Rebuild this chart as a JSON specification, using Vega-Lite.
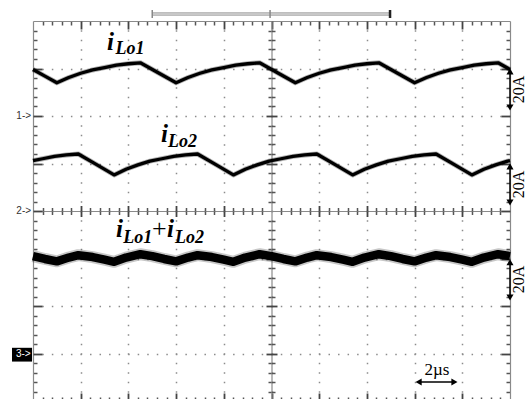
{
"$schema": "https://vega.github.io/schema/vega-lite/v6.json",
"width": 477, "height": 380,
"autosize": {"type": "none"},
"padding": {"left": 33, "top": 21, "right": 18, "bottom": 0},
"background": "white",
"config": {"view": {"stroke": null}, "axis": {"labels": false, "title": null, "domainColor": "#8a8a8a", "domainWidth": 1.2, "tickColor": "#555555", "tickWidth": 1.5, "grid": false}},
"resolve": {"axis": {"x": "independent", "y": "independent"}},
"data": {"values": [
{"ch":"iLo1","t":0,"v":6.98},{"ch":"iLo1","t":0.5,"v":6.84},{"ch":"iLo1","t":1.0,"v":6.70},{"ch":"iLo1","t":1.5,"v":6.81},{"ch":"iLo1","t":2.0,"v":6.90},{"ch":"iLo1","t":2.5,"v":6.97},{"ch":"iLo1","t":3.0,"v":7.02},{"ch":"iLo1","t":3.5,"v":7.07},{"ch":"iLo1","t":4.0,"v":7.10},{"ch":"iLo1","t":4.5,"v":7.12},{"ch":"iLo1","t":5.25,"v":6.91},
{"ch":"iLo1","t":6.0,"v":6.70},{"ch":"iLo1","t":6.5,"v":6.81},{"ch":"iLo1","t":7.0,"v":6.90},{"ch":"iLo1","t":7.5,"v":6.97},{"ch":"iLo1","t":8.0,"v":7.02},{"ch":"iLo1","t":8.5,"v":7.07},{"ch":"iLo1","t":9.0,"v":7.10},{"ch":"iLo1","t":9.5,"v":7.12},{"ch":"iLo1","t":10.25,"v":6.91},
{"ch":"iLo1","t":11.0,"v":6.70},{"ch":"iLo1","t":11.5,"v":6.81},{"ch":"iLo1","t":12.0,"v":6.90},{"ch":"iLo1","t":12.5,"v":6.97},{"ch":"iLo1","t":13.0,"v":7.02},{"ch":"iLo1","t":13.5,"v":7.07},{"ch":"iLo1","t":14.0,"v":7.10},{"ch":"iLo1","t":14.5,"v":7.12},{"ch":"iLo1","t":15.25,"v":6.91},
{"ch":"iLo1","t":16.0,"v":6.70},{"ch":"iLo1","t":16.5,"v":6.81},{"ch":"iLo1","t":17.0,"v":6.90},{"ch":"iLo1","t":17.5,"v":6.97},{"ch":"iLo1","t":18.0,"v":7.02},{"ch":"iLo1","t":18.5,"v":7.07},{"ch":"iLo1","t":19.0,"v":7.10},{"ch":"iLo1","t":19.5,"v":7.12},{"ch":"iLo1","t":20.0,"v":6.98},
{"ch":"iLo2","t":0,"v":5.06},{"ch":"iLo2","t":0.4,"v":5.10},{"ch":"iLo2","t":0.9,"v":5.15},{"ch":"iLo2","t":1.4,"v":5.18},{"ch":"iLo2","t":1.9,"v":5.20},{"ch":"iLo2","t":2.65,"v":4.98},
{"ch":"iLo2","t":3.4,"v":4.76},{"ch":"iLo2","t":3.9,"v":4.88},{"ch":"iLo2","t":4.4,"v":4.97},{"ch":"iLo2","t":4.9,"v":5.05},{"ch":"iLo2","t":5.4,"v":5.10},{"ch":"iLo2","t":5.9,"v":5.15},{"ch":"iLo2","t":6.4,"v":5.18},{"ch":"iLo2","t":6.9,"v":5.20},{"ch":"iLo2","t":7.65,"v":4.98},
{"ch":"iLo2","t":8.4,"v":4.76},{"ch":"iLo2","t":8.9,"v":4.88},{"ch":"iLo2","t":9.4,"v":4.97},{"ch":"iLo2","t":9.9,"v":5.05},{"ch":"iLo2","t":10.4,"v":5.10},{"ch":"iLo2","t":10.9,"v":5.15},{"ch":"iLo2","t":11.4,"v":5.18},{"ch":"iLo2","t":11.9,"v":5.20},{"ch":"iLo2","t":12.65,"v":4.98},
{"ch":"iLo2","t":13.4,"v":4.76},{"ch":"iLo2","t":13.9,"v":4.88},{"ch":"iLo2","t":14.4,"v":4.97},{"ch":"iLo2","t":14.9,"v":5.05},{"ch":"iLo2","t":15.4,"v":5.10},{"ch":"iLo2","t":15.9,"v":5.15},{"ch":"iLo2","t":16.4,"v":5.18},{"ch":"iLo2","t":16.9,"v":5.20},{"ch":"iLo2","t":17.65,"v":4.98},
{"ch":"iLo2","t":18.4,"v":4.76},{"ch":"iLo2","t":18.9,"v":4.88},{"ch":"iLo2","t":19.4,"v":4.97},{"ch":"iLo2","t":19.9,"v":5.05},{"ch":"iLo2","t":20.0,"v":5.06},
{"ch":"sum","t":0,"v":3.05},{"ch":"sum","t":0.5,"v":2.99},{"ch":"sum","t":1.0,"v":2.94},{"ch":"sum","t":1.5,"v":3.02},{"ch":"sum","t":1.9,"v":3.07},{"ch":"sum","t":2.5,"v":3.03},{"ch":"sum","t":3.0,"v":2.975},{"ch":"sum","t":3.4,"v":2.93},{"ch":"sum","t":3.9,"v":3.02},{"ch":"sum","t":4.5,"v":3.09},
{"ch":"sum","t":5.0,"v":3.05},{"ch":"sum","t":5.5,"v":2.99},{"ch":"sum","t":6.0,"v":2.94},{"ch":"sum","t":6.5,"v":3.02},{"ch":"sum","t":6.9,"v":3.07},{"ch":"sum","t":7.5,"v":3.03},{"ch":"sum","t":8.0,"v":2.975},{"ch":"sum","t":8.4,"v":2.93},{"ch":"sum","t":8.9,"v":3.02},{"ch":"sum","t":9.5,"v":3.09},
{"ch":"sum","t":10.0,"v":3.05},{"ch":"sum","t":10.5,"v":2.99},{"ch":"sum","t":11.0,"v":2.94},{"ch":"sum","t":11.5,"v":3.02},{"ch":"sum","t":11.9,"v":3.07},{"ch":"sum","t":12.5,"v":3.03},{"ch":"sum","t":13.0,"v":2.975},{"ch":"sum","t":13.4,"v":2.93},{"ch":"sum","t":13.9,"v":3.02},{"ch":"sum","t":14.5,"v":3.09},
{"ch":"sum","t":15.0,"v":3.05},{"ch":"sum","t":15.5,"v":2.99},{"ch":"sum","t":16.0,"v":2.94},{"ch":"sum","t":16.5,"v":3.02},{"ch":"sum","t":16.9,"v":3.07},{"ch":"sum","t":17.5,"v":3.03},{"ch":"sum","t":18.0,"v":2.975},{"ch":"sum","t":18.4,"v":2.93},{"ch":"sum","t":18.9,"v":3.02},{"ch":"sum","t":19.5,"v":3.09},{"ch":"sum","t":20.0,"v":3.05}
]},
"layer": [
{"transform": [{"filter": "datum.ch !== 'sum'"}],
 "mark": {"type": "line", "color": "#000", "strokeWidth": 5, "opacity": 0.3, "strokeJoin": "round"},
 "encoding": {
  "x": {"field": "t", "type": "quantitative", "scale": {"domain": [0, 20], "nice": false, "zero": false},
        "axis": {"orient": "bottom", "tickSize": -4, "values": [0.4,0.8,1.2,1.6,2.4,2.8,3.2,3.6,4.4,4.8,5.2,5.6,6.4,6.8,7.2,7.6,8.4,8.8,9.2,9.6,10.4,10.8,11.2,11.6,12.4,12.8,13.2,13.6,14.4,14.8,15.2,15.6,16.4,16.8,17.2,17.6,18.4,18.8,19.2,19.6]}},
  "y": {"field": "v", "type": "quantitative", "scale": {"domain": [0, 8], "nice": false, "zero": false},
        "axis": {"orient": "left", "tickSize": -4, "values": [0.2,0.4,0.6,0.8,1.2,1.4,1.6,1.8,2.2,2.4,2.6,2.8,3.2,3.4,3.6,3.8,4.2,4.4,4.6,4.8,5.2,5.4,5.6,5.8,6.2,6.4,6.6,6.8,7.2,7.4,7.6,7.8]}},
  "detail": {"field": "ch"}}},
{"transform": [{"filter": "datum.ch === 'sum'"}],
 "mark": {"type": "line", "color": "#000", "strokeWidth": 12, "opacity": 0.22, "strokeJoin": "round"},
 "encoding": {
  "x": {"field": "t", "type": "quantitative",
        "axis": {"orient": "top", "tickSize": -4, "values": [0.4,0.8,1.2,1.6,2.4,2.8,3.2,3.6,4.4,4.8,5.2,5.6,6.4,6.8,7.2,7.6,8.4,8.8,9.2,9.6,10.4,10.8,11.2,11.6,12.4,12.8,13.2,13.6,14.4,14.8,15.2,15.6,16.4,16.8,17.2,17.6,18.4,18.8,19.2,19.6]}},
  "y": {"field": "v", "type": "quantitative",
        "axis": {"orient": "right", "tickSize": -4, "values": [0.2,0.4,0.6,0.8,1.2,1.4,1.6,1.8,2.2,2.4,2.6,2.8,3.2,3.4,3.6,3.8,4.2,4.4,4.6,4.8,5.2,5.4,5.6,5.8,6.2,6.4,6.6,6.8,7.2,7.4,7.6,7.8]}}}},
{"transform": [{"filter": "datum.ch !== 'sum'"}],
 "mark": {"type": "line", "color": "#000", "strokeWidth": 3.3, "strokeJoin": "round"},
 "encoding": {
  "x": {"field": "t", "type": "quantitative",
        "axis": {"orient": "bottom", "offset": -190, "tickSize": 3.5, "values": [0.4,0.8,1.2,1.6,2.4,2.8,3.2,3.6,4.4,4.8,5.2,5.6,6.4,6.8,7.2,7.6,8.4,8.8,9.2,9.6,10.4,10.8,11.2,11.6,12.4,12.8,13.2,13.6,14.4,14.8,15.2,15.6,16.4,16.8,17.2,17.6,18.4,18.8,19.2,19.6]}},
  "y": {"field": "v", "type": "quantitative",
        "axis": {"orient": "left", "offset": -238.5, "tickSize": 3.5, "values": [0.2,0.4,0.6,0.8,1.2,1.4,1.6,1.8,2.2,2.4,2.6,2.8,3.2,3.4,3.6,3.8,4.2,4.4,4.6,4.8,5.2,5.4,5.6,5.8,6.2,6.4,6.6,6.8,7.2,7.4,7.6,7.8]}},
  "detail": {"field": "ch"}}},
{"transform": [{"filter": "datum.ch === 'sum'"}],
 "mark": {"type": "line", "color": "#000", "strokeWidth": 8.5, "strokeJoin": "round"},
 "encoding": {
  "x": {"field": "t", "type": "quantitative",
        "axis": {"orient": "top", "offset": -190, "domain": false, "tickSize": 3.5, "values": [0.4,0.8,1.2,1.6,2.4,2.8,3.2,3.6,4.4,4.8,5.2,5.6,6.4,6.8,7.2,7.6,8.4,8.8,9.2,9.6,10.4,10.8,11.2,11.6,12.4,12.8,13.2,13.6,14.4,14.8,15.2,15.6,16.4,16.8,17.2,17.6,18.4,18.8,19.2,19.6]}},
  "y": {"field": "v", "type": "quantitative",
        "axis": {"orient": "right", "offset": -238.5, "domain": false, "tickSize": 3.5, "values": [0.2,0.4,0.6,0.8,1.2,1.4,1.6,1.8,2.2,2.4,2.6,2.8,3.2,3.4,3.6,3.8,4.2,4.4,4.6,4.8,5.2,5.4,5.6,5.8,6.2,6.4,6.6,6.8,7.2,7.4,7.6,7.8]}}}},

{"data": {"values": [{}]}, "mark": {"type": "text", "text": "i", "font": "Liberation Serif", "fontStyle": "italic", "fontWeight": "bold", "fontSize": 25, "align": "left", "baseline": "alphabetic"},
 "encoding": {"x": {"datum": 3.10, "axis": {"orient": "bottom", "domain": false, "tickSize": -8, "tickColor": "#444", "tickWidth": 1.8, "values": [2,4,6,8,10,12,14,16,18], "grid": true, "gridColor": "#8c8c8c", "gridWidth": 1.5, "gridDash": [1.5, 8], "gridDashOffset": 0.75}},
              "y": {"datum": 7.39, "axis": {"orient": "left", "domain": false, "tickSize": -9, "tickColor": "#444", "tickWidth": 1.8, "values": [1,2,3,4,5,6,7], "grid": true, "gridColor": "#8c8c8c", "gridWidth": 1.5, "gridDash": [1.5, 8.04], "gridDashOffset": 0.75}}}},
{"data": {"values": [{}]}, "mark": {"type": "text", "text": "Lo1", "font": "Liberation Serif", "fontStyle": "italic", "fontWeight": "bold", "fontSize": 18, "align": "left", "baseline": "alphabetic"},
 "encoding": {"x": {"datum": 3.46, "axis": {"orient": "top", "domain": false, "tickSize": -8, "tickColor": "#444", "tickWidth": 1.8, "values": [2,4,6,8,10,12,14,16,18]}},
              "y": {"datum": 7.305, "axis": {"orient": "right", "domain": false, "tickSize": -9, "tickColor": "#444", "tickWidth": 1.8, "values": [1,2,3,4,5,6,7]}}}},
{"data": {"values": [{}]}, "mark": {"type": "text", "text": "i", "font": "Liberation Serif", "fontStyle": "italic", "fontWeight": "bold", "fontSize": 25, "align": "left", "baseline": "alphabetic"},
 "encoding": {"x": {"datum": 5.37, "axis": {"orient": "bottom", "offset": -190, "domain": false, "tickSize": 5.5, "tickColor": "#444", "tickWidth": 1.8, "values": [2,4,6,8,12,14,16,18]}},
              "y": {"datum": 5.453, "axis": {"orient": "left", "offset": -238.5, "domain": false, "tickSize": 5.5, "tickColor": "#444", "tickWidth": 1.8, "values": [1,2,3,5,6,7]}}}},
{"data": {"values": [{}]}, "mark": {"type": "text", "text": "Lo2", "font": "Liberation Serif", "fontStyle": "italic", "fontWeight": "bold", "fontSize": 18, "align": "left", "baseline": "alphabetic"},
 "encoding": {"x": {"datum": 5.66, "axis": {"orient": "top", "offset": -190, "domain": false, "tickSize": 5.5, "tickColor": "#444", "tickWidth": 1.8, "values": [2,4,6,8,12,14,16,18]}},
              "y": {"datum": 5.347, "axis": {"orient": "right", "offset": -238.5, "domain": false, "tickSize": 5.5, "tickColor": "#444", "tickWidth": 1.8, "values": [1,2,3,5,6,7]}}}},
{"data": {"values": [{}]}, "mark": {"type": "text", "text": "i", "font": "Liberation Serif", "fontStyle": "italic", "fontWeight": "bold", "fontSize": 25, "align": "left", "baseline": "alphabetic"},
 "encoding": {"x": {"datum": 3.48, "axis": null}, "y": {"datum": 3.453, "axis": null}}},
{"data": {"values": [{}]}, "mark": {"type": "text", "text": "Lo1", "font": "Liberation Serif", "fontStyle": "italic", "fontWeight": "bold", "fontSize": 18, "align": "left", "baseline": "alphabetic"},
 "encoding": {"x": {"datum": 3.78, "axis": null}, "y": {"datum": 3.326, "axis": null}}},
{"data": {"values": [{}]}, "mark": {"type": "text", "text": "+", "font": "Liberation Serif", "fontSize": 26, "align": "left", "baseline": "alphabetic"},
 "encoding": {"x": {"datum": 4.99, "axis": null}, "y": {"datum": 3.453, "axis": null}}},
{"data": {"values": [{}]}, "mark": {"type": "text", "text": "i", "font": "Liberation Serif", "fontStyle": "italic", "fontWeight": "bold", "fontSize": 25, "align": "left", "baseline": "alphabetic"},
 "encoding": {"x": {"datum": 5.62, "axis": null}, "y": {"datum": 3.453, "axis": null}}},
{"data": {"values": [{}]}, "mark": {"type": "text", "text": "Lo2", "font": "Liberation Serif", "fontStyle": "italic", "fontWeight": "bold", "fontSize": 18, "align": "left", "baseline": "alphabetic"},
 "encoding": {"x": {"datum": 5.95, "axis": null}, "y": {"datum": 3.326, "axis": null}}},

{"data": {"values": [{}]}, "mark": {"type": "text", "text": "1->", "font": "Liberation Sans", "fontSize": 10, "color": "#333", "align": "right", "baseline": "middle"},
 "encoding": {"x": {"datum": -0.08, "axis": null}, "y": {"datum": 6, "axis": null}}},
{"data": {"values": [{}]}, "mark": {"type": "text", "text": "2->", "font": "Liberation Sans", "fontSize": 10, "color": "#333", "align": "right", "baseline": "middle"},
 "encoding": {"x": {"datum": -0.08, "axis": null}, "y": {"datum": 4, "axis": null}}},
{"data": {"values": [{}]}, "mark": {"type": "rect", "color": "#000"},
 "encoding": {"x": {"datum": -0.88, "axis": null}, "x2": {"datum": -0.04}, "y": {"datum": 1.12, "axis": null}, "y2": {"datum": 0.83}}},
{"data": {"values": [{}]}, "mark": {"type": "text", "text": "3->", "font": "Liberation Sans", "fontSize": 10, "color": "#fff", "align": "right", "baseline": "middle"},
 "encoding": {"x": {"datum": -0.1, "axis": null}, "y": {"datum": 0.98, "axis": null}}},

{"data": {"values": [{}]}, "mark": {"type": "rule", "color": "#000", "strokeWidth": 1.5},
 "encoding": {"x": {"datum": 20, "axis": null}, "y": {"datum": 6.94, "axis": null}, "y2": {"datum": 6.18}}},
{"data": {"values": [{}]}, "mark": {"type": "point", "shape": "triangle-up", "filled": true, "color": "#000", "size": 50, "opacity": 1},
 "encoding": {"x": {"datum": 20, "axis": null}, "y": {"datum": 6.94, "axis": null}}},
{"data": {"values": [{}]}, "mark": {"type": "point", "shape": "triangle-down", "filled": true, "color": "#000", "size": 50, "opacity": 1},
 "encoding": {"x": {"datum": 20, "axis": null}, "y": {"datum": 6.18, "axis": null}}},
{"data": {"values": [{}]}, "mark": {"type": "rule", "color": "#000", "strokeWidth": 1.5},
 "encoding": {"x": {"datum": 20, "axis": null}, "y": {"datum": 4.94, "axis": null}, "y2": {"datum": 4.18}}},
{"data": {"values": [{}]}, "mark": {"type": "point", "shape": "triangle-up", "filled": true, "color": "#000", "size": 50, "opacity": 1},
 "encoding": {"x": {"datum": 20, "axis": null}, "y": {"datum": 4.94, "axis": null}}},
{"data": {"values": [{}]}, "mark": {"type": "point", "shape": "triangle-down", "filled": true, "color": "#000", "size": 50, "opacity": 1},
 "encoding": {"x": {"datum": 20, "axis": null}, "y": {"datum": 4.18, "axis": null}}},
{"data": {"values": [{}]}, "mark": {"type": "rule", "color": "#000", "strokeWidth": 1.5},
 "encoding": {"x": {"datum": 20, "axis": null}, "y": {"datum": 2.92, "axis": null}, "y2": {"datum": 2.18}}},
{"data": {"values": [{}]}, "mark": {"type": "point", "shape": "triangle-up", "filled": true, "color": "#000", "size": 50, "opacity": 1},
 "encoding": {"x": {"datum": 20, "axis": null}, "y": {"datum": 2.92, "axis": null}}},
{"data": {"values": [{}]}, "mark": {"type": "point", "shape": "triangle-down", "filled": true, "color": "#000", "size": 50, "opacity": 1},
 "encoding": {"x": {"datum": 20, "axis": null}, "y": {"datum": 2.18, "axis": null}}},
{"data": {"values": [{}]}, "mark": {"type": "text", "text": "20A", "font": "Liberation Serif", "fontSize": 16, "angle": 270, "align": "center", "baseline": "middle"},
 "encoding": {"x": {"datum": 20.38, "axis": null}, "y": {"datum": 6.56, "axis": null}}},
{"data": {"values": [{}]}, "mark": {"type": "text", "text": "20A", "font": "Liberation Serif", "fontSize": 16, "angle": 270, "align": "center", "baseline": "middle"},
 "encoding": {"x": {"datum": 20.38, "axis": null}, "y": {"datum": 4.56, "axis": null}}},
{"data": {"values": [{}]}, "mark": {"type": "text", "text": "20A", "font": "Liberation Serif", "fontSize": 16, "angle": 270, "align": "center", "baseline": "middle"},
 "encoding": {"x": {"datum": 20.38, "axis": null}, "y": {"datum": 2.56, "axis": null}}},

{"data": {"values": [{}]}, "mark": {"type": "text", "text": "2µs", "font": "Liberation Serif", "fontSize": 17, "align": "center", "baseline": "alphabetic"},
 "encoding": {"x": {"datum": 16.94, "axis": null}, "y": {"datum": 0.55, "axis": null}}},
{"data": {"values": [{}]}, "mark": {"type": "rule", "color": "#000", "strokeWidth": 1.5},
 "encoding": {"x": {"datum": 16.17, "axis": null}, "x2": {"datum": 17.67}, "y": {"datum": 0.4, "axis": null}}},
{"data": {"values": [{}]}, "mark": {"type": "point", "shape": "triangle-left", "filled": true, "color": "#000", "size": 50, "opacity": 1},
 "encoding": {"x": {"datum": 16.17, "axis": null}, "y": {"datum": 0.4, "axis": null}}},
{"data": {"values": [{}]}, "mark": {"type": "point", "shape": "triangle-right", "filled": true, "color": "#000", "size": 50, "opacity": 1},
 "encoding": {"x": {"datum": 17.67, "axis": null}, "y": {"datum": 0.4, "axis": null}}},

{"data": {"values": [{}]}, "mark": {"type": "rule", "color": "#a8a8a8", "strokeWidth": 3.5},
 "encoding": {"x": {"datum": 5.0, "axis": null}, "x2": {"datum": 14.97}, "y": {"datum": 8.147, "axis": null}}},
{"data": {"values": [{}]}, "mark": {"type": "rule", "color": "#e6e6e6", "strokeWidth": 1},
 "encoding": {"x": {"datum": 5.0, "axis": null}, "x2": {"datum": 14.97}, "y": {"datum": 8.147, "axis": null}}},
{"data": {"values": [{}]}, "mark": {"type": "rule", "color": "#888", "strokeWidth": 1.5},
 "encoding": {"x": {"datum": 5.0, "axis": null}, "y": {"datum": 8.232, "axis": null}, "y2": {"datum": 8.063}}},
{"data": {"values": [{}]}, "mark": {"type": "rule", "color": "#888", "strokeWidth": 1.5},
 "encoding": {"x": {"datum": 9.94, "axis": null}, "y": {"datum": 8.232, "axis": null}, "y2": {"datum": 8.063}}},
{"data": {"values": [{}]}, "mark": {"type": "rule", "color": "#222", "strokeWidth": 2.5},
 "encoding": {"x": {"datum": 14.97, "axis": null}, "y": {"datum": 8.232, "axis": null}, "y2": {"datum": 8.063}}}
]
}
